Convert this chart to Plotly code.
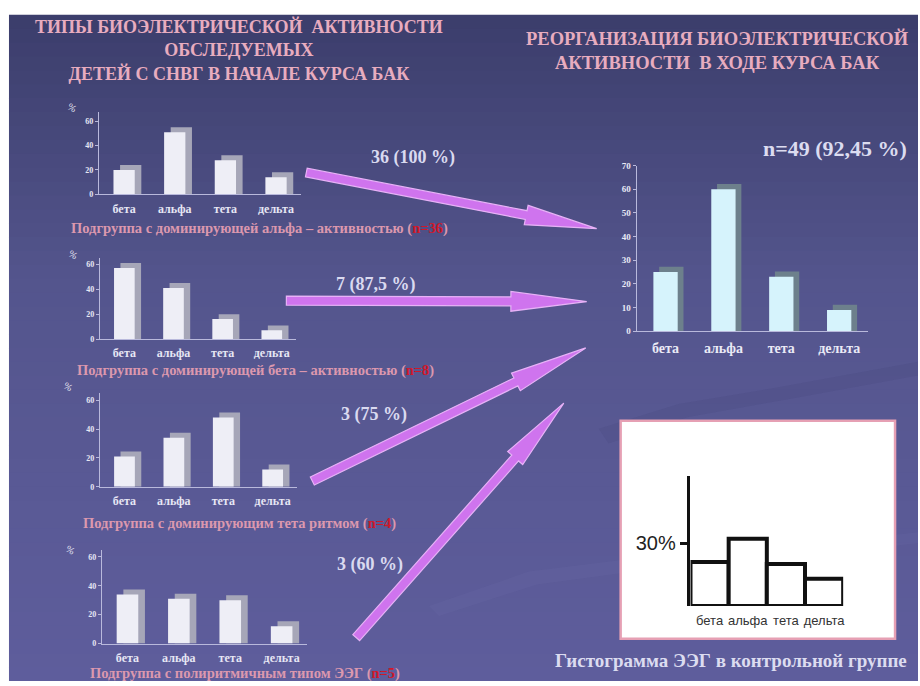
import plotly.graph_objects as go

# ---------------- data ----------------
cats = ['бета', 'альфа', 'тета', 'дельта']
alpha_group = [20, 51, 28, 14]
beta_group = [57, 41, 16, 7]
theta_group = [21, 34, 48, 12]
poly_group = [34, 31, 30, 12]
after_course = [25, 60, 23, 9]
control_group = [21, 32, 20, 13]

small_ticks = [0, 20, 40, 60]
big_ticks = [0, 10, 20, 30, 40, 50, 60, 70]

arrow_labels = ['36 (100 %)', '7 (87,5 %)', '3 (75 %)', '3 (60 %)']
captions = [
    'Подгруппа с доминирующей альфа – активностью (<span style="color:#d0182a">n=36</span>)',
    'Подгруппа с доминирующей бета – активностью (<span style="color:#d0182a">n=8</span>)',
    'Подгруппа с доминирующим тета ритмом (<span style="color:#d0182a">n=4</span>)',
    'Подгруппа с полиритмичным типом ЭЭГ (<span style="color:#d0182a">n=5</span>)',
]
title_left = 'ТИПЫ БИОЭЛЕКТРИЧЕСКОЙ  АКТИВНОСТИ<br>ОБСЛЕДУЕМЫХ<br>ДЕТЕЙ С СНВГ В НАЧАЛЕ КУРСА БАК'
title_right = 'РЕОРГАНИЗАЦИЯ БИОЭЛЕКТРИЧЕСКОЙ<br>АКТИВНОСТИ  В ХОДЕ КУРСА БАК'
n_label = 'n=49 (92,45 %)'
hist_caption = 'Гистограмма ЭЭГ в контрольной группе'

W, H = 920, 686
SERIF = 'Liberation Serif'


def px(x):
    return x / W


def py(y):
    return 1 - y / H


def ydom(y0, ppu, rmax):
    return [py(y0), py(y0 - ppu * rmax)]


fig = go.Figure()

# ---------------- background (slide) ----------------
shapes = []
top = (60, 62, 108)
mid = (84, 85, 141)
bot = (94, 93, 156)
nb = 48
y_start, y_end = 10, 686
for i in range(nb):
    t = i / (nb - 1)
    if t < 0.4:
        s = t / 0.4
        c = [round(top[k] + (mid[k] - top[k]) * s) for k in range(3)]
    else:
        s = (t - 0.4) / 0.6
        c = [round(mid[k] + (bot[k] - mid[k]) * s) for k in range(3)]
    ya = y_start + (y_end - y_start) * i / nb
    yb = y_start + (y_end - y_start) * (i + 1) / nb + 1
    shapes.append(dict(type='rect', xref='paper', yref='paper', layer='below',
                       x0=px(9), x1=1, y0=py(min(yb, H)), y1=py(ya),
                       fillcolor='rgb(%d,%d,%d)' % tuple(c), line=dict(width=0)))


def pth(pts):
    return 'M ' + ' L '.join('%.5f,%.5f' % (px(x), py(y)) for x, y in pts)


# subtle swooshes
shapes.append(dict(type='path', xref='paper', yref='paper', layer='below',
                   path=pth([(600, 430), (680, 405), (780, 388), (920, 362),
                             (920, 376), (790, 400), (690, 418), (610, 445)]) + ' Z',
                   fillcolor='rgba(45,45,95,0.10)', line=dict(width=0)))
shapes.append(dict(type='path', xref='paper', yref='paper', layer='below',
                   path=pth([(430, 610), (530, 575), (650, 560), (770, 552), (920, 535),
                             (920, 546), (775, 564), (655, 572), (538, 588), (440, 620)]) + ' Z',
                   fillcolor='rgba(125,125,190,0.10)', line=dict(width=0)))


# ---------------- arrows ----------------
def arrow(x0, y0, x1, y1, sw=9, hw=20, hl=70):
    dx, dy = x1 - x0, y1 - y0
    L = (dx * dx + dy * dy) ** 0.5
    ux, uy = dx / L, dy / L
    nx, ny = -uy, ux
    bx, by = x1 - ux * hl, y1 - uy * hl
    pts = [
        (x0 + nx * sw / 2, y0 + ny * sw / 2),
        (bx + nx * sw / 2, by + ny * sw / 2),
        (bx + nx * hw / 2, by + ny * hw / 2),
        (x1, y1),
        (bx - nx * hw / 2, by - ny * hw / 2),
        (bx - nx * sw / 2, by - ny * sw / 2),
        (x0 - nx * sw / 2, y0 - ny * sw / 2),
    ]
    return dict(type='path', xref='paper', yref='paper', layer='above',
                path=pth(pts) + ' Z', fillcolor='#cf74ee',
                line=dict(color='#e7b2f7', width=1.2))


arrow_geo = [((307, 170), (598, 227), 72),
             ((287, 300), (588, 301), 76),
             ((313, 483), (587, 348), 78),
             ((357, 642), (565, 404), 74)]
for (a, b, hl) in arrow_geo:
    shapes.append(arrow(a[0], a[1], b[0], b[1], hl=hl))

# histogram white box
shapes.append(dict(type='rect', xref='paper', yref='paper', layer='below',
                   x0=px(622), x1=px(897), y0=py(643), y1=py(422),
                   fillcolor='#ffffff', line=dict(color='#e6a0b4', width=2.5)))

# ---------------- small charts ----------------
small = [
    dict(vals=alpha_group, x0=99, x1=302, y0=192, ppu=74 / 60, rmax=68),
    dict(vals=beta_group, x0=100, x1=297, y0=339, ppu=76 / 60, rmax=65),
    dict(vals=theta_group, x0=100, x1=298, y0=489, ppu=88 / 60, rmax=65),
    dict(vals=poly_group, x0=102, x1=308, y0=648, ppu=88 / 60, rmax=65),
]

layout_axes = {}
axis_line = '#b9b9dc'
for i, s in enumerate(small):
    n = i + 1
    xa = 'x' if n == 1 else 'x%d' % n
    ya = 'y' if n == 1 else 'y%d' % n
    depth_y = 5.0 / s['ppu']
    w = 0.42
    fig.add_trace(go.Bar(x=cats, y=[v + depth_y for v in s['vals']], width=w,
                         offset=-w / 2 + 0.13, marker=dict(color='#a6a6b8', line=dict(width=0)),
                         xaxis=xa, yaxis=ya, showlegend=False, hoverinfo='skip'))
    fig.add_trace(go.Bar(x=cats, y=s['vals'], width=w, offset=-w / 2,
                         marker=dict(color='#eeeef6', line=dict(width=0)),
                         xaxis=xa, yaxis=ya, showlegend=False))
    kx = 'xaxis' if n == 1 else 'xaxis%d' % n
    ky = 'yaxis' if n == 1 else 'yaxis%d' % n
    layout_axes[kx] = dict(domain=[px(s['x0']), px(s['x1'])], anchor=ya,
                           range=[-0.5, 3.5], showgrid=False, zeroline=False,
                           showline=True, linecolor=axis_line, linewidth=1,
                           ticks='', tickfont=dict(family=SERIF, size=12, color='#e6e6f4', weight='bold'),
                           ticklabelstandoff=3)
    layout_axes[ky] = dict(domain=ydom(s['y0'], s['ppu'], s['rmax']), anchor=xa,
                           range=[0, s['rmax']], showgrid=False, zeroline=False,
                           showline=True, linecolor=axis_line, linewidth=1,
                           ticks='outside', ticklen=3, tickcolor=axis_line,
                           tickvals=small_ticks,
                           tickfont=dict(family=SERIF, size=8, color='#e6e6f4', weight='bold'))

# ---------------- big chart ----------------
big_ppu = 168 / 70
fig.add_trace(go.Bar(x=cats, y=[v + 2.2 for v in after_course], width=0.42, offset=-0.21 + 0.1,
                     marker=dict(color='#6d808c', line=dict(width=0)),
                     xaxis='x5', yaxis='y5', showlegend=False, hoverinfo='skip'))
fig.add_trace(go.Bar(x=cats, y=after_course, width=0.42, offset=-0.21,
                     marker=dict(color='#d6f3fc', line=dict(width=0)),
                     xaxis='x5', yaxis='y5', showlegend=False))
layout_axes['xaxis5'] = dict(domain=[px(638), px(870)], anchor='y5', range=[-0.5, 3.5],
                             showgrid=False, zeroline=False, showline=True,
                             linecolor=axis_line, linewidth=1, ticks='',
                             tickfont=dict(family=SERIF, size=14, color='#eaeaf6', weight='bold'),
                             ticklabelstandoff=4)
layout_axes['yaxis5'] = dict(domain=ydom(331, big_ppu, 70), anchor='x5', range=[0, 70],
                             showgrid=False, zeroline=False, showline=True,
                             linecolor=axis_line, linewidth=1, ticks='outside', ticklen=3,
                             tickcolor=axis_line, tickvals=big_ticks,
                             tickfont=dict(family=SERIF, size=9, color='#eaeaf6', weight='bold'))

# ---------------- control histogram ----------------
fig.add_trace(go.Bar(x=cats, y=control_group, width=1.0,
                     marker=dict(color='#ffffff', line=dict(color='#111111', width=4)),
                     xaxis='x6', yaxis='y6', showlegend=False))
h_ppu = 64 / 30
layout_axes['xaxis6'] = dict(domain=[px(692), px(845)], anchor='y6', range=[-0.5, 3.5],
                             showgrid=False, zeroline=False, showline=False, ticks='',
                             tickfont=dict(family='Liberation Sans', size=13, color='#333333'),
                             ticklabelstandoff=5)
layout_axes['yaxis6'] = dict(domain=ydom(610, h_ppu, 62), anchor='x6', range=[0, 62],
                             showgrid=False, zeroline=False, showline=True,
                             linecolor='#111111', linewidth=2.5, ticks='outside', ticklen=8,
                             tickwidth=2.5, tickcolor='#111111', tickvals=[30], ticktext=['30%'],
                             tickfont=dict(family='Liberation Sans', size=20, color='#222222'))

# ---------------- annotations ----------------
ann = []
pink = '#e8acbf'
ann.append(dict(x=px(240), y=py(46), text='<b>' + title_left + '</b>', showarrow=False,
                xref='paper', yref='paper', xanchor='center', yanchor='middle',
                font=dict(family=SERIF, size=18, color=pink), align='center'))
ann.append(dict(x=px(719), y=py(46), text='<b>' + title_right + '</b>', showarrow=False,
                xref='paper', yref='paper', xanchor='center', yanchor='middle',
                font=dict(family=SERIF, size=18.5, color=pink), align='center'))

lab_pos = [(414, 155), (377, 284), (375, 416), (371, 568)]
for t, (x, y) in zip(arrow_labels, lab_pos):
    ann.append(dict(x=px(x), y=py(y), text='<b>' + t + '</b>', showarrow=False,
                    xref='paper', yref='paper', xanchor='center', yanchor='middle',
                    font=dict(family=SERIF, size=18, color='#dadaf0')))

cap_pos = [(260, 227), (256, 371), (240, 526), (246, 678)]
for t, (x, y) in zip(captions, cap_pos):
    ann.append(dict(x=px(x), y=py(y), text='<b>' + t + '</b>', showarrow=False,
                    xref='paper', yref='paper', xanchor='center', yanchor='middle',
                    font=dict(family=SERIF, size=14.5, color='#dc98ae')))

pct_pos = [(72, 104), (73, 253), (68, 387), (70, 553)]
for (x, y) in pct_pos:
    ann.append(dict(x=px(x), y=py(y), text='%', showarrow=False, textangle=30,
                    xref='paper', yref='paper', xanchor='center', yanchor='middle',
                    font=dict(family=SERIF, size=10, color='#e6e6f4')))

ann.append(dict(x=px(837), y=py(146), text='<b>' + n_label + '</b>', showarrow=False,
                xref='paper', yref='paper', xanchor='center', yanchor='middle',
                font=dict(family=SERIF, size=22, color='#dcdcf0')))
ann.append(dict(x=px(733), y=py(665), text='<b>' + hist_caption + '</b>', showarrow=False,
                xref='paper', yref='paper', xanchor='center', yanchor='middle',
                font=dict(family=SERIF, size=19, color='#dcdcf0')))

fig.update_layout(
    width=W, height=H, margin=dict(l=0, r=0, t=0, b=0),
    paper_bgcolor='#ffffff', plot_bgcolor='rgba(0,0,0,0)',
    barmode='overlay', showlegend=False,
    shapes=shapes, annotations=ann, **layout_axes,
)

fig.write_html('out.html')
